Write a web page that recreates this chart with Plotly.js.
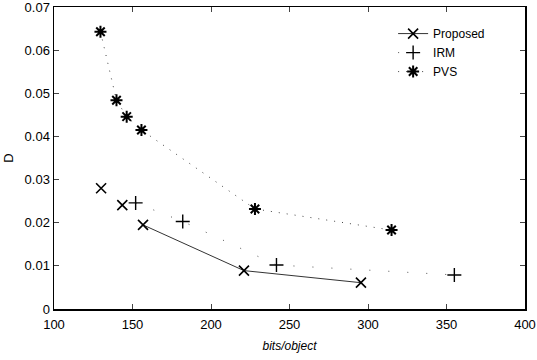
<!DOCTYPE html>
<html>
<head>
<meta charset="utf-8">
<script src="https://cdn.plot.ly/plotly-3.0.1.min.js"></script>
<style>html,body{margin:0;padding:0;background:#fff;}#chart{width:537px;height:360px;}</style>
</head>
<body>
<div id="chart"></div>
<script>
const proposedX = [130, 143.5, 156.7, 221, 295.5];
const proposedY = [0.028, 0.0241, 0.0195, 0.0089, 0.0061];
const irmX = [152, 182, 241.7, 355];
const irmY = [0.0246, 0.0203, 0.0102, 0.0079];
const pvsX = [129.6, 139.8, 146.3, 155.7, 228, 315];
const pvsY = [0.0643, 0.0484, 0.0446, 0.0415, 0.0232, 0.0183];
const xTicks = [100, 150, 200, 250, 300, 350, 400];
const yTicks = [0, 0.01, 0.02, 0.03, 0.04, 0.05, 0.06, 0.07];
const yTickText = ['0', '0.01', '0.02', '0.03', '0.04', '0.05', '0.06', '0.07'];

const xMarker = {symbol: 'x-thin-open', size: 10, color: '#000', line: {color: '#000', width: 1.6}};
const data = [
  {x: proposedX.slice(0, 2), y: proposedY.slice(0, 2), name: 'Proposed', mode: 'markers',
   showlegend: false, marker: xMarker},
  {x: proposedX.slice(2), y: proposedY.slice(2), name: 'Proposed', mode: 'lines+markers',
   line: {color: '#333', width: 1}, marker: xMarker},
  {x: irmX, y: irmY, name: 'IRM', mode: 'lines+markers',
   line: {color: '#555', width: 1, dash: '1px,18px'},
   marker: {symbol: 'cross-thin-open', size: 10, color: '#000', line: {color: '#000', width: 1.4}}},
  {x: pvsX, y: pvsY, name: 'PVS', mode: 'lines+markers',
   line: {color: '#444', width: 1, dash: '1px,7px'},
   marker: {symbol: 'asterisk-open', size: 10, color: '#000', line: {color: '#000', width: 2}}}
];

const layout = {
  width: 537, height: 360,
  margin: {l: 54, r: 12, t: 7, b: 51},
  paper_bgcolor: '#fff', plot_bgcolor: '#fff',
  font: {family: 'Liberation Sans, Arial, sans-serif', size: 13, color: '#000'},
  showlegend: true,
  legend: {x: 0.72, y: 0.96, xanchor: 'left', yanchor: 'top', bgcolor: 'rgba(0,0,0,0)',
           font: {size: 12}, tracegroupgap: 0},
  xaxis: {range: [100, 400], tickvals: xTicks, ticks: 'inside', ticklen: 5, mirror: 'ticks',
          showline: true, linecolor: '#000', linewidth: 1.5, showgrid: false, zeroline: false,
          ticklabeloverflow: 'allow', ticklabelstandoff: 3,
          title: {text: 'bits/object', font: {size: 12, style: 'italic'}, standoff: 10}},
  yaxis: {range: [0, 0.07002], tickvals: yTicks, ticktext: yTickText, ticks: 'inside', ticklen: 5,
          mirror: 'ticks', showline: true, linecolor: '#000', linewidth: 1.5, showgrid: false,
          zeroline: false, ticklabeloverflow: 'allow',
          title: {text: 'D', font: {size: 13}, standoff: 8}}
};

Plotly.newPlot('chart', data, layout, {displayModeBar: false, staticPlot: true});
</script>
</body>
</html>
